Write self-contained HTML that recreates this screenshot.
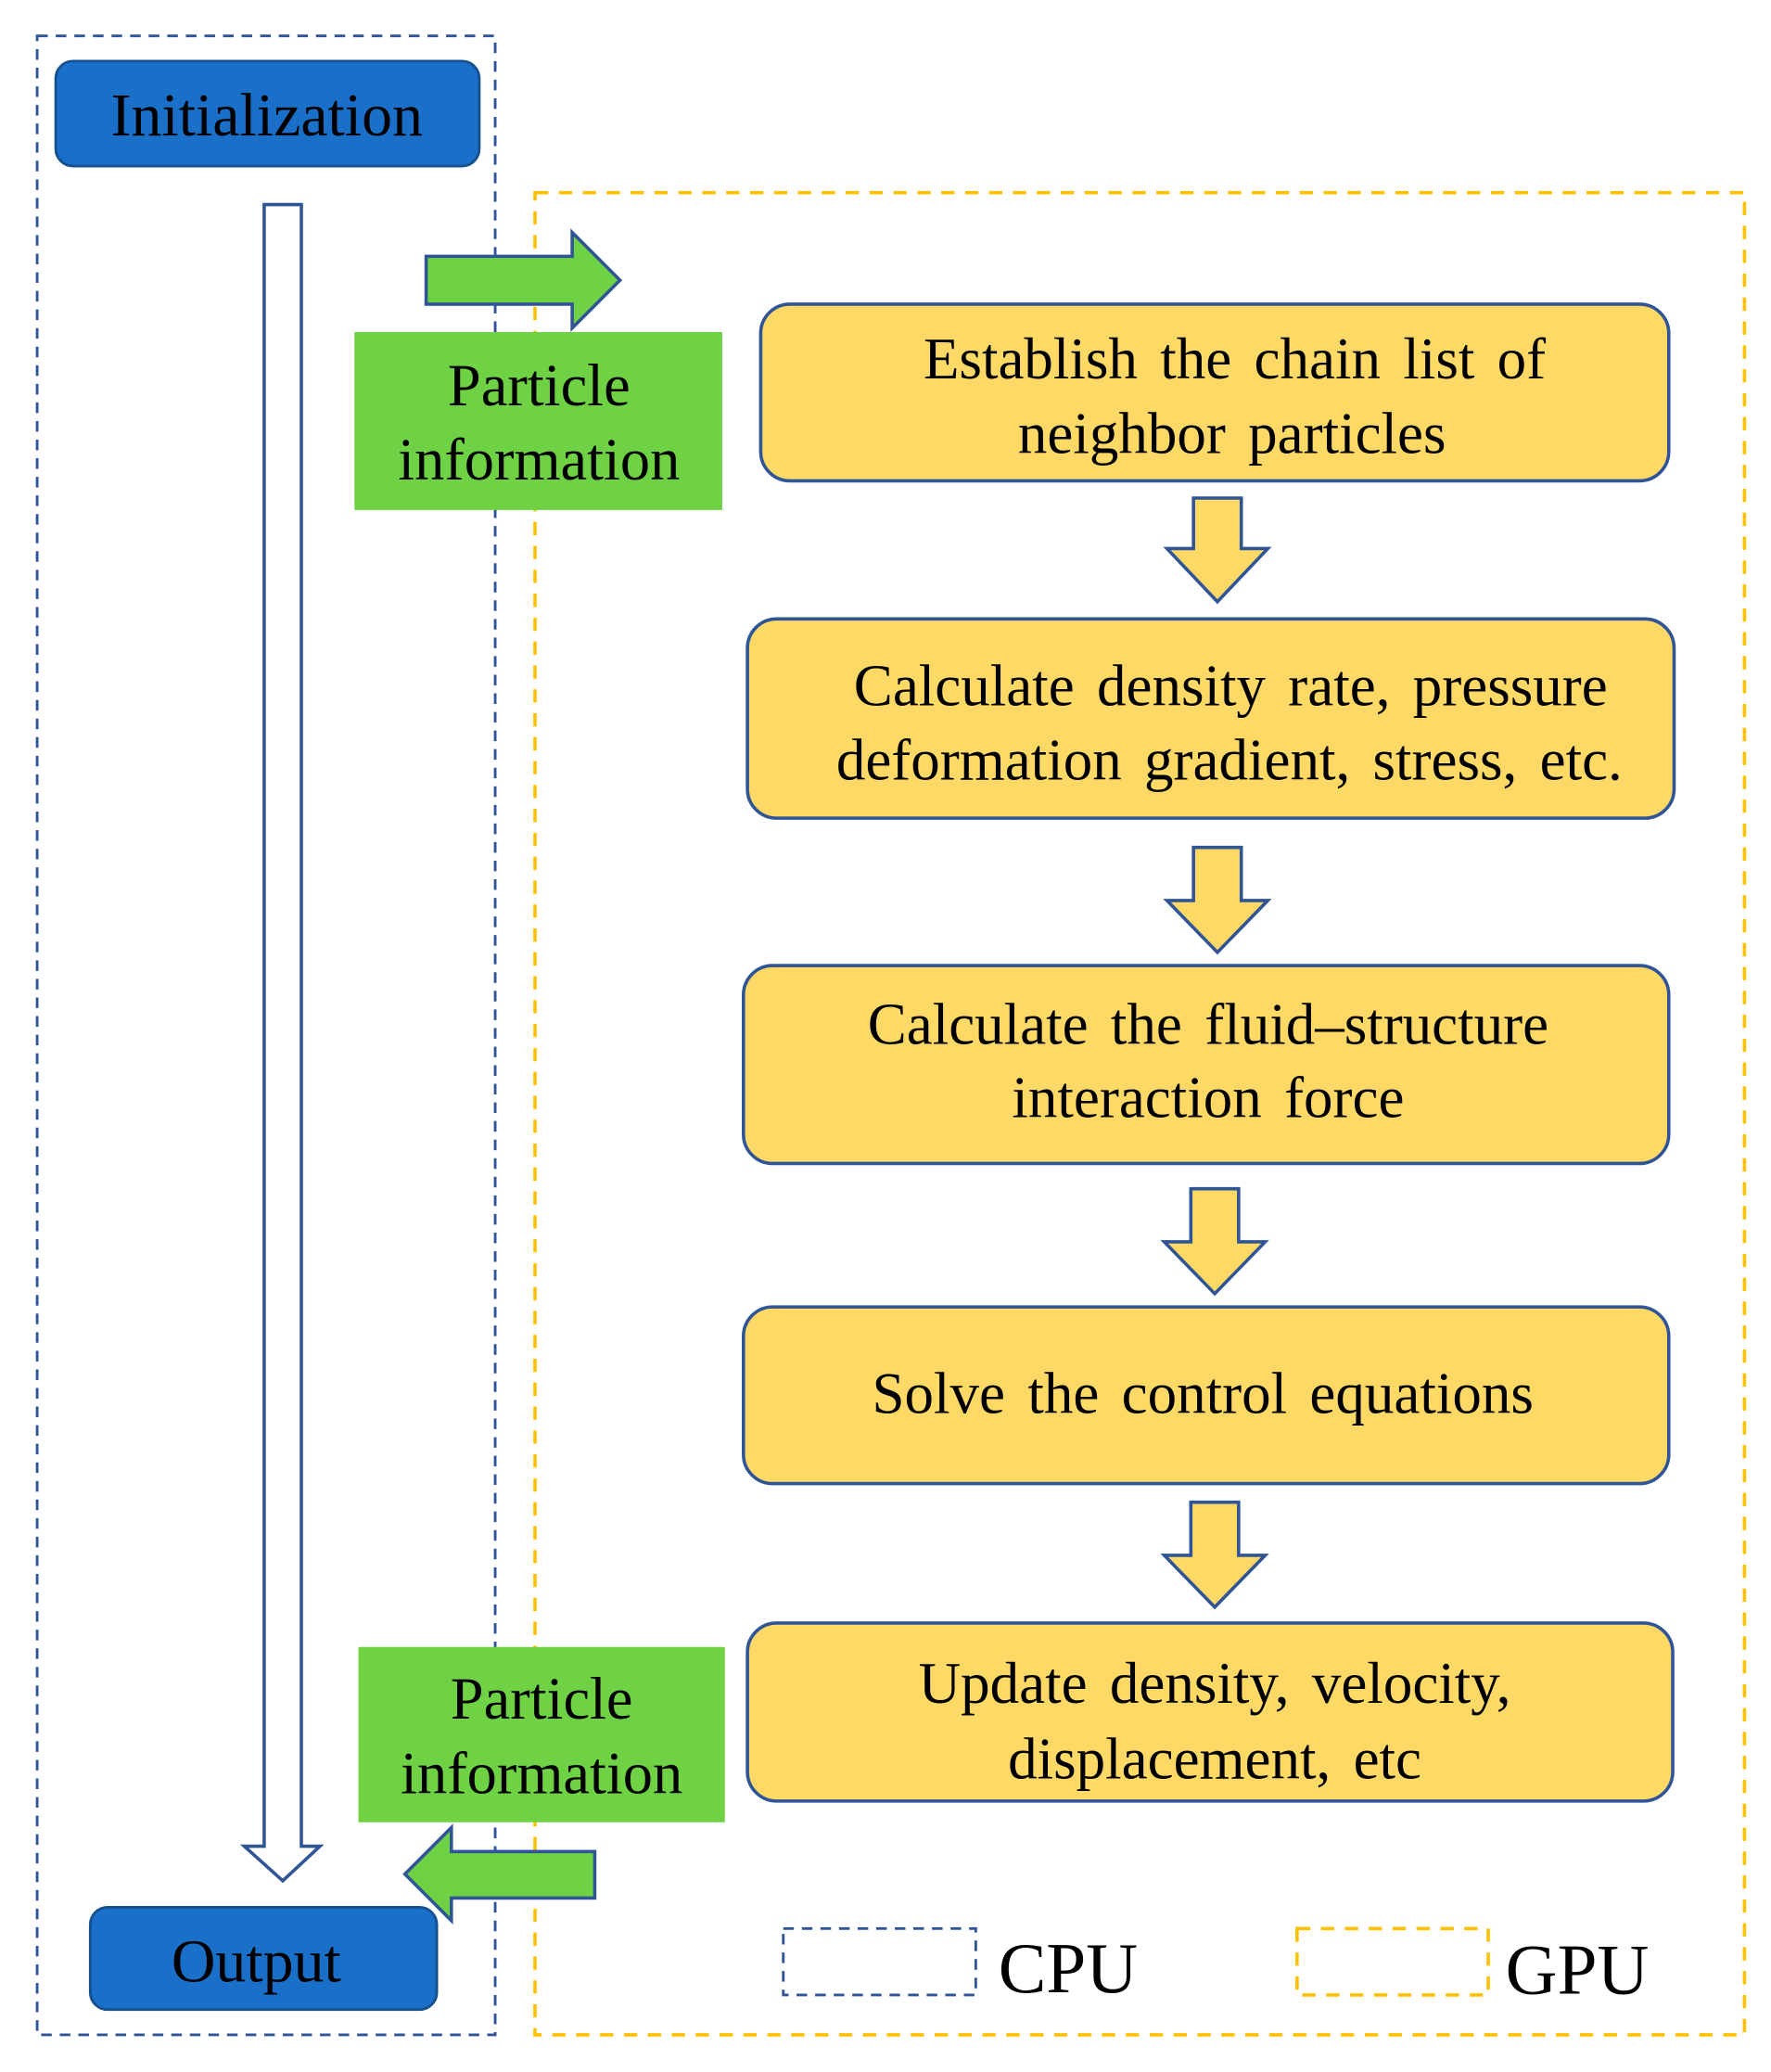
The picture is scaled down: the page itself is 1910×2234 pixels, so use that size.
<!DOCTYPE html>
<html><head><meta charset="utf-8"><style>
html,body{margin:0;padding:0;background:#fff;}
svg{display:block;}
text{font-family:"Liberation Serif",serif;fill:#000;}
</style></head><body>
<svg width="1910" height="2234" viewBox="0 0 1334 1560" preserveAspectRatio="none" xmlns="http://www.w3.org/2000/svg">
<rect x="28" y="27" width="345" height="1505" fill="none" stroke="#2f5597" stroke-width="2" stroke-dasharray="8,6"/>
<rect x="403" y="145" width="911" height="1387" fill="none" stroke="#ffc000" stroke-width="2.5" stroke-dasharray="10,8"/>

<rect x="42" y="46" width="319" height="79" rx="13" fill="#1a70c8" stroke="#15508f" stroke-width="2"/>
<text x="201" y="102" font-size="46" text-anchor="middle">Initialization</text>
<rect x="68" y="1436" width="261" height="77" rx="13" fill="#1a70c8" stroke="#15508f" stroke-width="2"/>
<text x="193" y="1492" font-size="46" text-anchor="middle">Output</text>

<polygon points="199,154 227,154 227,1390 241,1390 213,1416 184,1390 199,1390" fill="#fff" stroke="#2f5597" stroke-width="2.5"/>

<polygon points="321,193 431,193 431,175 467,211 431,247 431,229 321,229" fill="#6fd244" stroke="#2f5597" stroke-width="2.5"/>
<polygon points="448,1394 340,1394 340,1376 305,1411 340,1446 340,1429 448,1429" fill="#6fd244" stroke="#2f5597" stroke-width="2.5"/>

<rect x="267" y="250" width="277" height="134" fill="#6fd244"/>
<text x="406" y="305" font-size="45" text-anchor="middle">Particle</text>
<text x="406" y="361" font-size="45" text-anchor="middle">information</text>
<rect x="270" y="1240" width="276" height="132" fill="#6fd244"/>
<text x="408" y="1294" font-size="45" text-anchor="middle">Particle</text>
<text x="408" y="1350" font-size="45" text-anchor="middle">information</text>

<g fill="#ffd966" stroke="#2f5597" stroke-width="2.5">
<rect x="573" y="229" width="684" height="133" rx="22"/>
<rect x="563" y="466" width="698" height="150" rx="22"/>
<rect x="560" y="727" width="697" height="149" rx="22"/>
<rect x="560" y="984" width="697" height="133" rx="22"/>
<rect x="563" y="1222" width="697" height="134" rx="22"/>
</g>
<g font-size="44" text-anchor="middle" word-spacing="6">
<text x="930" y="285">Establish the chain list of</text>
<text x="928" y="341">neighbor particles</text>
<text x="927" y="531">Calculate density rate, pressure</text>
<text x="926" y="587">deformation gradient, stress, etc.</text>
<text x="910" y="786">Calculate the fluid–structure</text>
<text x="910" y="841">interaction force</text>
<text x="906" y="1064">Solve the control equations</text>
<text x="915" y="1282">Update density, velocity,</text>
<text x="915" y="1339">displacement, etc</text>
</g>

<g fill="#ffd966" stroke="#2f5597" stroke-width="2.5">
<polygon points="899,375 935,375 935,413 955,413 917,453 879,413 899,413"/>
<polygon points="899,638 935,638 935,678 955,678 917,717 879,678 899,678"/>
<polygon points="897,895 933,895 933,935 953,935 915,974 877,935 897,935"/>
<polygon points="897,1131 933,1131 933,1171 953,1171 915,1210 877,1171 897,1171"/>
</g>

<rect x="590" y="1452" width="145" height="50" fill="none" stroke="#2f5597" stroke-width="2" stroke-dasharray="8,6"/>
<text x="752" y="1500" font-size="54">CPU</text>
<rect x="977" y="1452" width="144" height="50" fill="none" stroke="#ffc000" stroke-width="2.5" stroke-dasharray="10,8"/>
<text x="1134" y="1501" font-size="54">GPU</text>
</svg>
</body></html>
